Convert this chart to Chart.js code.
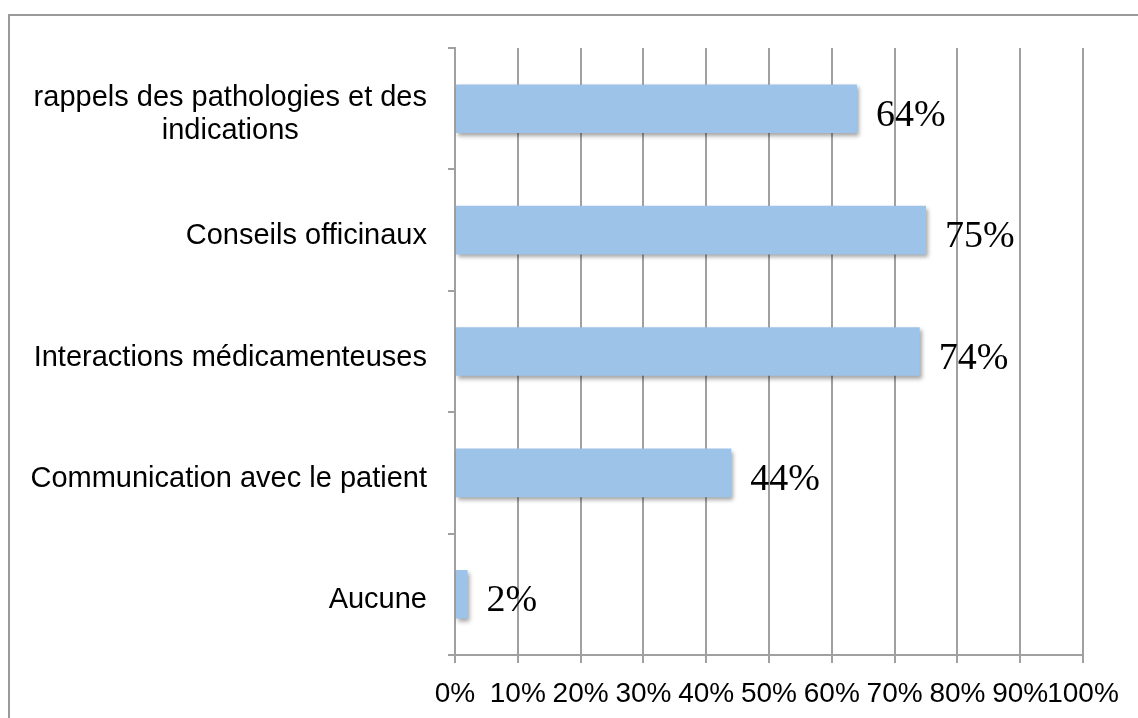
<!DOCTYPE html>
<html>
<head>
<meta charset="utf-8">
<script src="https://cdn.jsdelivr.net/npm/chart.js@4/dist/chart.umd.min.js"></script>
<style>
  html, body { margin: 0; padding: 0; background: #fff; }
  #wrap { position: relative; width: 1138px; height: 718px; overflow: hidden; }
  #cadre {
    position: absolute; left: 8px; top: 14px; width: 1200px; height: 800px;
    border-left: 2px solid #9a9a9a; border-top: 2px solid #9a9a9a;
  }
  #graf { position: absolute; left: 0; top: 0; }
</style>
</head>
<body>
<div id="wrap">
  <div id="cadre"></div>
  <canvas id="graf" width="1138" height="718"></canvas>
</div>
<script>
const categories = [
  ['rappels des pathologies et des', 'indications'],
  'Conseils officinaux',
  'Interactions médicamenteuses',
  'Communication avec le patient',
  'Aucune'
];
const valeurs = [64, 75, 74, 44, 2];
const ticksX = [0, 10, 20, 30, 40, 50, 60, 70, 80, 90, 100];

const gris = '#a0a0a0';

// ombre portee sous les barres
const ombre = {
  id: 'ombre',
  beforeDatasetsDraw(chart) {
    const ctx = chart.ctx;
    ctx.save();
    ctx.shadowColor = 'rgba(0,0,0,0.35)';
    ctx.shadowBlur = 4;
    ctx.shadowOffsetX = 2;
    ctx.shadowOffsetY = 3;
  },
  afterDatasetsDraw(chart) {
    chart.ctx.restore();
  }
};

// libelles de l'axe vertical : bloc aligne a droite, lignes centrees
const libelles = {
  id: 'libelles',
  afterDraw(chart) {
    const ctx = chart.ctx;
    const y = chart.scales.y;
    const droite = 427;
    const interligne = 33;
    ctx.save();
    ctx.font = '29px "Liberation Sans", Arial, sans-serif';
    ctx.fillStyle = '#000';
    ctx.textAlign = 'center';
    ctx.textBaseline = 'middle';
    chart.data.labels.forEach((lab, i) => {
      const lignes = Array.isArray(lab) ? lab : [lab];
      const large = Math.max(...lignes.map(l => ctx.measureText(l).width));
      const cx = droite - large / 2;
      const cy = y.getPixelForValue(i) + 6;
      lignes.forEach((l, k) => {
        ctx.fillText(l, cx, cy + (k - (lignes.length - 1) / 2) * interligne);
      });
    });

    // valeurs au bout des barres
    ctx.font = '38px "Liberation Serif", "DejaVu Serif", serif';
    ctx.textAlign = 'left';
    ctx.textBaseline = 'alphabetic';
    chart.getDatasetMeta(0).data.forEach((bar, i) => {
      ctx.fillText(valeurs[i] + '%', bar.x + 19, bar.y + 17);
    });
    ctx.restore();
  }
};

new Chart(document.getElementById('graf'), {
  type: 'bar',
  data: {
    labels: categories,
    datasets: [{
      data: valeurs,
      backgroundColor: '#9dc3e9',
      borderWidth: 0,
      categoryPercentage: 1,
      barPercentage: 0.4
    }]
  },
  options: {
    indexAxis: 'y',
    responsive: false,
    animation: false,
    layout: { padding: { top: 48, right: 55, left: 0, bottom: 0 } },
    plugins: { legend: { display: false }, tooltip: { enabled: false } },
    scales: {
      x: {
        min: 0,
        max: 100,
        afterBuildTicks(scale) {
          scale.ticks = ticksX.map(v => ({ value: v }));
        },
        afterFit(scale) { scale.height = 63; },
        ticks: {
          callback: v => v + '%',
          color: '#000',
          padding: 14,
          maxRotation: 0,
          autoSkip: false,
          font: { family: '"Liberation Sans", Arial, sans-serif', size: 28 }
        },
        grid: { color: gris, lineWidth: 2, tickLength: 8 },
        border: { color: gris, width: 2 }
      },
      y: {
        afterFit(scale) { scale.width = 455; },
        ticks: { display: false },
        grid: { color: gris, lineWidth: 2, tickLength: 7, drawOnChartArea: false, offset: true },
        border: { color: gris, width: 2 }
      }
    }
  },
  plugins: [ombre, libelles]
});
</script>
</body>
</html>
